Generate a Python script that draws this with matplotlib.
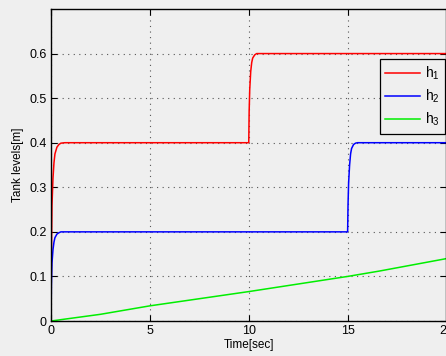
import matplotlib
matplotlib.use("Agg")
import matplotlib.pyplot as plt

# Tank level responses (time in seconds, level in metres)
t1 = [0, 0.02, 0.05, 0.1, 0.15, 0.2, 0.3, 0.4, 0.5, 0.7,
      10.0, 10.02, 10.05, 10.1, 10.15, 10.2, 10.3, 10.4, 20.0]
h1 = [0, 0.15, 0.26, 0.32, 0.355, 0.375, 0.39, 0.396, 0.399, 0.4,
      0.4, 0.47, 0.52, 0.56, 0.58, 0.59, 0.597, 0.6, 0.6]

t2 = [0, 0.02, 0.05, 0.1, 0.15, 0.2, 0.3, 0.4, 0.5, 0.7,
      15.0, 15.02, 15.05, 15.1, 15.15, 15.2, 15.3, 15.4, 15.5, 20.0]
h2 = [0, 0.08, 0.13, 0.16, 0.177, 0.187, 0.195, 0.198, 0.2, 0.2,
      0.2, 0.26, 0.31, 0.35, 0.375, 0.387, 0.396, 0.399, 0.4, 0.4]

t3 = [0, 2.5, 5, 10, 15, 16.6, 20]
h3 = [0, 0.015, 0.034, 0.066, 0.1, 0.112, 0.14]

x_ticks = [0, 5, 10, 15, 20]
y_ticks = [0, 0.1, 0.2, 0.3, 0.4, 0.5, 0.6]
y_ticklabels = ["0", "0.1", "0.2", "0.3", "0.4", "0.5", "0.6"]
series_labels = ["h$_1$", "h$_2$", "h$_3$"]

plt.rcParams["font.family"] = ["Liberation Sans", "DejaVu Sans"]
plt.rcParams["mathtext.fontset"] = "custom"
plt.rcParams["mathtext.rm"] = "Liberation Sans"
plt.rcParams["mathtext.it"] = "Liberation Sans"

bg = "#efefef"
fig = plt.figure(figsize=(4.46, 3.56), dpi=100, facecolor=bg)
ax = fig.add_axes([51 / 446, 35 / 356, 395.5 / 446, 312 / 356])
ax.set_facecolor(bg)

ax.plot(t1, h1, color="#ff0000", lw=1.1, label=series_labels[0])
ax.plot(t2, h2, color="#0000ff", lw=1.1, label=series_labels[1])
ax.plot(t3, h3, color="#00ee00", lw=1.1, label=series_labels[2])

ax.set_xlim(0, 20)
ax.set_ylim(0, 0.7)
ax.set_xticks(x_ticks)
ax.set_yticks(y_ticks)
ax.set_yticklabels(y_ticklabels)
ax.tick_params(direction="in", length=4, width=0.8, labelsize=9,
               top=True, right=True, colors="black", pad=3)
ax.grid(True, color="#555555", linestyle=(0, (1, 4)), linewidth=0.8)
for s in ax.spines.values():
    s.set_linewidth(1.0)
    s.set_color("black")

ax.set_xlabel("Time[sec]", fontsize=8.5, labelpad=1)
ax.set_ylabel("Tank levels[m]", fontsize=8.5, labelpad=4)

leg = ax.legend(loc="upper right", bbox_to_anchor=(0.9962, 0.8397),
                fontsize=10, frameon=True, fancybox=False,
                handlelength=2.5, handletextpad=0.35, labelspacing=0.42,
                borderpad=0.4, borderaxespad=0)
leg.get_frame().set_edgecolor("black")
leg.get_frame().set_linewidth(0.9)
leg.get_frame().set_facecolor(bg)
leg.get_frame().set_alpha(1)

fig.savefig("out.png", dpi=100, facecolor=bg)
